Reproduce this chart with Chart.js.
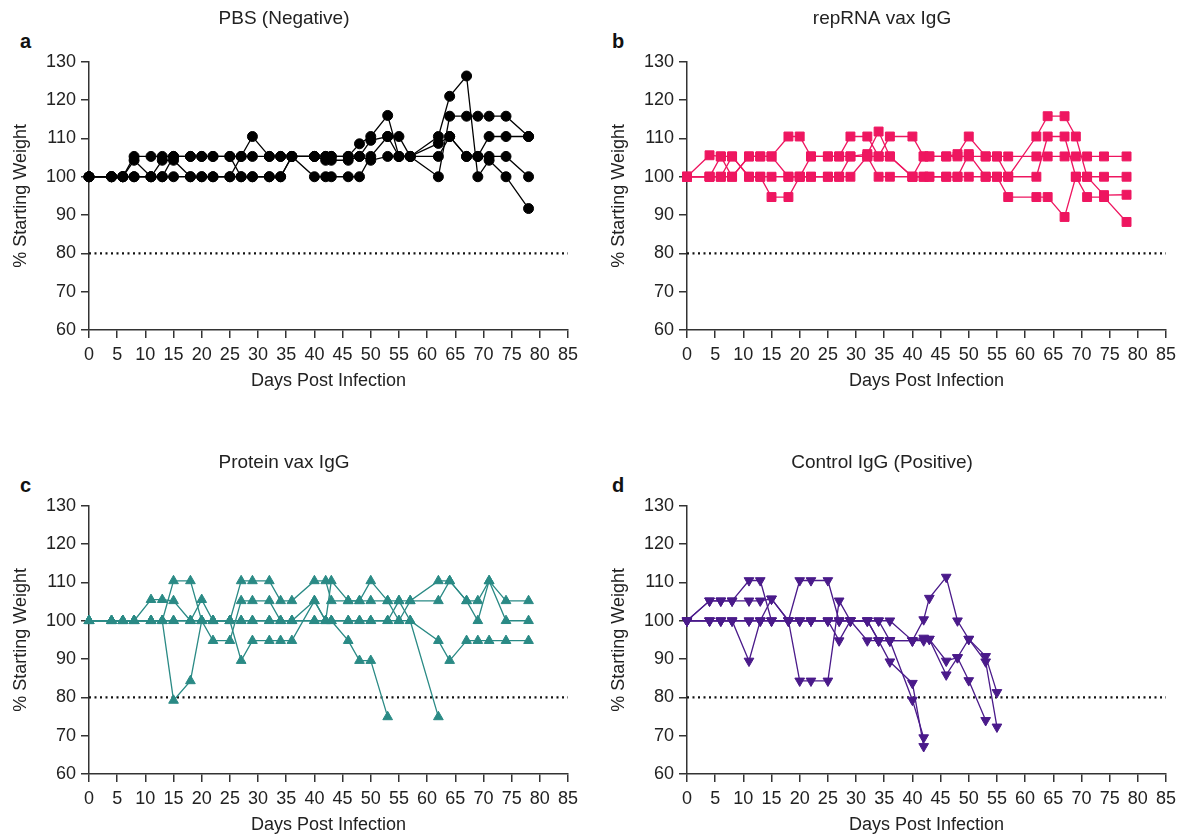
<!DOCTYPE html>
<html>
<head>
<meta charset="utf-8">
<script src="https://cdn.jsdelivr.net/npm/chart.js@4"></script>
<style>
  body { margin: 0; background: #fff; width: 1187px; height: 839px; overflow: hidden; position: relative; font-family: "Liberation Sans", Arial, sans-serif; }
  .panel { position: absolute; }
  .letter { position: absolute; font-weight: bold; font-size: 20px; color: #111; }
</style>
</head>
<body>
<div class="letter" style="left:20px;top:30px">a</div>
<div class="letter" style="left:612px;top:30px">b</div>
<div class="letter" style="left:20px;top:474px">c</div>
<div class="letter" style="left:612px;top:474px">d</div>
<div class="panel" style="left:0;top:0"><canvas id="chartA" width="589" height="400"></canvas></div>
<div class="panel" style="left:598px;top:0"><canvas id="chartB" width="589" height="400"></canvas></div>
<div class="panel" style="left:0;top:444px"><canvas id="chartC" width="589" height="400"></canvas></div>
<div class="panel" style="left:598px;top:444px"><canvas id="chartD" width="589" height="400"></canvas></div>
<script>
// weigh days
const days = [0, 4, 6, 8, 11, 13, 15, 18, 20, 22, 25, 27, 29, 32, 34, 36, 40, 42, 43, 46, 48, 50, 53, 55, 57, 62, 64, 67, 69, 71, 74, 78];
const daysCtrl = [0, 4, 6, 8, 11, 13, 15, 18, 20, 22, 25, 27, 29, 32, 34, 36, 40, 42, 43, 46, 48, 50, 53, 55];
const xTicks = [0, 85, 5];
const yTicks = [60, 130, 10];
const cutoff = 80;

// PBS (Negative)
const pbsA = [100,100,100,105.3,105.3,105.3,105.3,105.3,105.3,105.3,105.3,105.3,110.5,105.3,105.3,105.3,105.3,105.3,105.3,105.3,108.6,110.5,116,105.3,105.3,110.5,121,126.3,100,104.3,100,91.7];
const pbsB = [100,100,100,104.3,100,104.3,104.3,100,100,100,100,105.3,105.3,105.3,105.3,105.3,100,100,100,100,100,105.3,110.5,110.5,105.3,100,115.8,115.8,115.8,115.8,115.8,110.5];
const pbsC = [100,100,100,100,100,100,100,100,100,100,100,100,100,100,100,105.3,105.3,104.3,104.3,104.3,105.3,104.3,105.3,105.3,105.3,108.7,110.5,105.3,105.3,110.5,110.5,110.5];
const pbsD = [100,100,100,100,100,100,105.3,105.3,105.3,105.3,105.3,100,100,100,100,105.3,105.3,105.3,105.3,105.3,105.3,109.5,110.5,105.3,105.3,105.3,110.5,105.3,105.3,105.3,105.3,100];

// repRNA vax IgG
const rnaA = [100,105.6,105.3,105.3,100,100,100,100,100,100,100,100,100,105.3,100,100,100,100,100,100,100,100,100,100,100,100,110.5,110.5,100,100,100,100];
const rnaB = [100,100,105.3,100,105.3,105.3,105.3,110.5,110.5,105.3,105.3,105.3,110.5,110.5,105.3,110.5,110.5,105.3,105.3,105.3,105.9,110.5,105.3,105.3,105.3,105.3,105.3,105.3,105.3,105.3,105.3,105.3];
const rnaC = [100,100,100,105.3,100,100,94.7,94.7,100,100,100,100,105.3,105.9,111.8,105.3,100,100,100,100,100,105.9,100,100,94.7,94.7,94.7,89.5,100,94.7,94.7,88.2];
const rnaD = [100,100,100,100,105.3,105.3,105.3,100,100,105.3,105.3,105.3,105.3,105.3,105.3,105.3,100,105.3,105.3,105.3,105.3,105.3,105.3,105.3,100,110.5,115.8,115.8,110.5,100,95.2,95.3];

// Protein vax IgG
const protA = [100,100,100,100,100,100,100,100,100,100,100,100,100,100,100,100,100,100,100,94.8,89.6,89.6,74.9,null,null,null,null,null,null,null,null,null];
const protB = [100,100,100,100,100,100,100,100,100,100,100,100,100,100,100,100,100,100,100,100,100,100,100,105.2,100,74.9,null,null,null,null,null,null];
const protC = [100,100,100,100,100,100,79.2,84.3,100,100,100,89.6,94.8,94.8,94.8,94.8,105.2,100,100,100,100,100,100,100,100,94.8,89.6,94.8,94.8,94.8,94.8,94.8];
const protD = [100,100,100,100,105.5,105.5,105.2,100,105.5,100,100,110.4,110.4,110.4,105.2,105.2,110.4,110.4,105.2,105.2,105.2,110.4,105.2,105.2,105.2,110.4,110.4,105.2,100,110.4,100,100];
const protE = [100,100,100,100,100,100,110.4,110.4,100,94.8,94.8,105.2,105.2,105.2,100,100,105.2,100,110.4,105.2,105.2,105.2,105.2,100,105.2,105.2,110.4,105.2,105.2,110.4,105.2,105.2];

// Control IgG (Positive)
const ctrlA = [100,100,100,100,100,100,100,100,110.5,110.5,110.5,100,100,100,94.8,89.3,83.7,67.2,null,null,null,null,null,null];
const ctrlB = [100,100,100,100,100,100,100,100,100,100,100,100,100,94.8,94.8,94.8,79.3,69.5,null,null,null,null,null,null];
const ctrlC = [100,105.2,105.2,105.2,110.5,110.5,100,100,84.3,84.3,84.3,105.2,100,100,100,100,94.8,94.8,95.2,89.5,90.4,95.2,89.3,72.3];
const ctrlD = [100,100,100,100,89.5,100,105.7,100,100,100,100,100,100,100,100,94.8,94.8,100.3,105.9,111.4,100,95.2,90.7,81.3];
const ctrlE = [100,105.2,105.2,105.2,105.2,105.2,105.7,100,100,100,100,94.8,100,100,94.8,94.8,94.8,95.5,95.2,85.9,90.4,84.4,74,null];

const FONT = '"Liberation Sans", Arial, sans-serif';
const INK = '#222';

// marker radius per style so the drawn sizes look alike
const RADIUS = { circle: 5, rect: 6.3, triangle: 5.6 };

function makePanel(id, title, xs, series, color, pointStyle, rotation) {
  const datasets = series.map(vals => ({
    data: xs.map((d, i) => ({ x: d, y: vals[i] })),
    borderColor: color,
    backgroundColor: color,
    borderWidth: 1.3,
    pointStyle: pointStyle,
    rotation: rotation,
    pointRadius: RADIUS[pointStyle],
    pointBorderWidth: 1,
    spanGaps: false,
    clip: false
  }));
  datasets.push({
    data: [{ x: xTicks[0], y: cutoff }, { x: xTicks[1], y: cutoff }],
    borderColor: '#111',
    borderWidth: 2.2,
    borderDash: [2, 3.5],
    pointRadius: 0
  });

  new Chart(document.getElementById(id), {
    type: 'line',
    data: { datasets },
    options: {
      responsive: false,
      animation: false,
      devicePixelRatio: 1,
      layout: { padding: { left: 0, right: 21, top: 0, bottom: 0 } },
      plugins: {
        legend: { display: false },
        tooltip: { enabled: false },
        title: {
          display: true,
          text: title,
          color: INK,
          font: { family: FONT, size: 19, weight: 'normal' },
          padding: { top: 7, bottom: 32 }
        }
      },
      scales: {
        x: {
          type: 'linear',
          min: xTicks[0], max: xTicks[1],
          afterFit: s => { s.height = 70; },
          ticks: { stepSize: xTicks[2], color: INK, padding: 6, font: { family: FONT, size: 18 } },
          grid: { drawOnChartArea: false, drawTicks: true, tickLength: 8, color: '#333', lineWidth: 1.5 },
          border: { color: '#333', width: 1.5 },
          title: { display: true, text: 'Days Post Infection', color: INK, padding: 8, font: { family: FONT, size: 18 } }
        },
        y: {
          min: yTicks[0], max: yTicks[1],
          afterFit: s => { s.width = 89; },
          ticks: { stepSize: yTicks[2], color: INK, padding: 5, font: { family: FONT, size: 18 } },
          grid: { drawOnChartArea: false, drawTicks: true, tickLength: 8, color: '#333', lineWidth: 1.5 },
          border: { color: '#333', width: 1.5 },
          title: { display: true, text: '% Starting Weight', color: INK, padding: 10, font: { family: FONT, size: 18 } }
        }
      }
    }
  });
}

makePanel('chartA', 'PBS (Negative)', days, [pbsA, pbsB, pbsC, pbsD], '#000000', 'circle', 0);
makePanel('chartB', 'repRNA vax IgG', days, [rnaA, rnaB, rnaC, rnaD], '#ee1660', 'rect', 0);
makePanel('chartC', 'Protein vax IgG', days, [protA, protB, protC, protD, protE], '#2a8a85', 'triangle', 0);
makePanel('chartD', 'Control IgG (Positive)', daysCtrl, [ctrlA, ctrlB, ctrlC, ctrlD, ctrlE], '#4a1a8a', 'triangle', 180);
</script>
</body>
</html>
